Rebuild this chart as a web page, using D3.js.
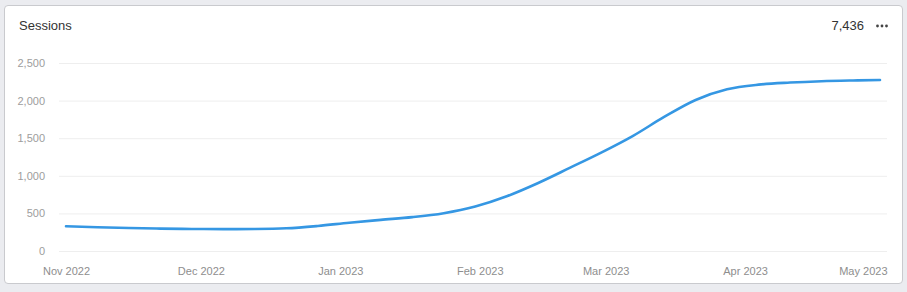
<!DOCTYPE html>
<html>
<head>
<meta charset="utf-8">
<script src="https://cdn.jsdelivr.net/npm/d3@7"></script>
<style>
  html, body { margin: 0; padding: 0; background: #ebecf0; }
  body { width: 907px; height: 292px; overflow: hidden; font-family: "Liberation Sans", Arial, sans-serif; }
  .card {
    position: absolute; left: 4px; top: 5px; width: 897px; height: 277px;
    background: #fff; border: 1px solid #c9cace; border-radius: 4px;
  }
  svg { position: absolute; left: 0; top: 0; }
</style>
</head>
<body>
<div class="card"></div>
<div class="chart"></div>
<script>
// weekly session counts, Nov 2022 - May 2023
var dates = ["2022-11-01", "2022-11-08", "2022-11-15", "2022-11-22", "2022-11-29",
  "2022-12-06", "2022-12-13", "2022-12-20", "2022-12-27", "2023-01-03", "2023-01-10",
  "2023-01-17", "2023-01-24", "2023-01-31", "2023-02-07", "2023-02-14", "2023-02-21",
  "2023-02-28", "2023-03-07", "2023-03-14", "2023-03-21", "2023-03-28", "2023-04-04",
  "2023-04-11", "2023-04-18", "2023-04-25", "2023-05-01"];
var sessions = [330, 316, 306, 298, 293, 291, 293, 302, 333, 376, 414,
  450, 503, 592, 728, 905, 1105, 1308, 1528, 1782, 2008, 2150, 2212,
  2240, 2258, 2268, 2274];
var yTicks = [0, 500, 1000, 1500, 2000, 2500];
var xTicks = ["2022-11-01", "2022-12-01", "2023-01-01", "2023-02-01", "2023-03-01", "2023-04-01", "2023-05-01"];
var title = "Sessions";
var total = "7,436";

var svgWidth = 907;
var svgHeight = 292;
var margin = { top: 63, right: 27, bottom: 41, left: 66 };
var width = svgWidth - margin.left - margin.right;
var height = svgHeight - margin.top - margin.bottom;

var parseDate = d3.timeParse("%Y-%m-%d");
var data = dates.map(function(d, i) {
  return { date: parseDate(d), value: sessions[i] };
});

var svg = d3.select(".chart")
  .append("svg")
  .attr("width", svgWidth)
  .attr("height", svgHeight);

// header
svg.append("text")
  .attr("x", 19)
  .attr("y", 30)
  .attr("font-size", 13)
  .attr("fill", "#333")
  .text(title);

svg.append("text")
  .attr("x", 864)
  .attr("y", 30)
  .attr("text-anchor", "end")
  .attr("font-size", 13)
  .attr("fill", "#333")
  .text(total);

// the little "more" dots
svg.append("g")
  .selectAll("circle")
  .data([0, 1, 2])
  .enter()
  .append("circle")
  .attr("cx", function(d) { return 877.5 + d * 4.5; })
  .attr("cy", 26)
  .attr("r", 1.4)
  .attr("fill", "#444");

var chart = svg.append("g")
  .attr("transform", "translate(" + margin.left + "," + margin.top + ")");

var xScale = d3.scaleTime()
  .domain([parseDate(dates[0]), parseDate(dates[dates.length - 1])])
  .range([0, width]);

var yScale = d3.scaleLinear()
  .domain([0, 2500])
  .range([height, 0]);

// gridlines + y labels
var leftAxis = d3.axisLeft(yScale)
  .tickValues(yTicks)
  .tickSize(-(width + 7 + 7))
  .tickPadding(14)
  .tickFormat(d3.format(","));

var yAxis = chart.append("g")
  .attr("transform", "translate(-7,0)")
  .call(leftAxis);
yAxis.select(".domain").remove();
yAxis.selectAll(".tick line").attr("stroke", "#eeeeee").attr("stroke-width", 1);
yAxis.selectAll(".tick text")
  .attr("fill", "#9d9d9d")
  .attr("font-size", 11)
  .attr("font-family", "Liberation Sans, Arial, sans-serif");

// x labels
var bottomAxis = d3.axisBottom(xScale)
  .tickValues(xTicks.map(parseDate))
  .tickSize(0)
  .tickPadding(16)
  .tickFormat(d3.timeFormat("%b %Y"));

var xAxis = chart.append("g")
  .attr("transform", "translate(0," + height + ")")
  .call(bottomAxis);
xAxis.select(".domain").remove();
xAxis.selectAll(".tick text")
  .attr("fill", "#8e8e8e")
  .attr("font-size", 11)
  .attr("font-family", "Liberation Sans, Arial, sans-serif");
// keep the last label inside the card
xAxis.selectAll(".tick text")
  .filter(function(d, i, nodes) { return i === nodes.length - 1; })
  .attr("text-anchor", "end")
  .attr("dx", 7);

var line = d3.line()
  .x(function(d) { return xScale(d.date); })
  .y(function(d) { return yScale(d.value); })
  .curve(d3.curveMonotoneX);

chart.append("path")
  .datum(data)
  .attr("fill", "none")
  .attr("stroke", "#3597e3")
  .attr("stroke-width", 2.6)
  .attr("stroke-linecap", "round")
  .attr("d", line);
</script>
</body>
</html>
